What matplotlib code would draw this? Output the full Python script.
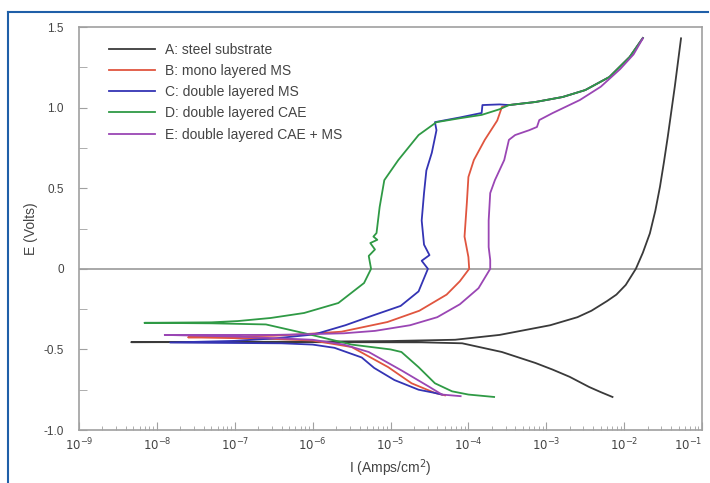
import matplotlib
matplotlib.use("Agg")
import matplotlib.pyplot as plt
import numpy as np
from matplotlib.ticker import LogLocator, NullFormatter, MultipleLocator, FixedLocator
from matplotlib.lines import Line2D

plt.rcParams['font.family'] = ['Liberation Sans', 'DejaVu Sans']

# ---- data: log10(I [A/cm2]) and E [V], each curve: cathodic tail -> Ecorr tip -> anodic top
a_logI = [-2.15, -2.30, -2.45, -2.70, -2.92, -3.14, -3.57, -4.08, -4.6, -6.0, -8.33,
          -6.0, -5.0, -4.17, -3.6, -2.95, -2.60, -2.42, -2.22, -2.10, -1.98, -1.85, -1.76,
          -1.67, -1.60, -1.54, -1.49, -1.44, -1.35, -1.27]
a_E = [-0.795, -0.765, -0.733, -0.67, -0.625, -0.584, -0.516, -0.462, -0.456, -0.455, -0.455,
       -0.452, -0.448, -0.44, -0.41, -0.35, -0.30, -0.26, -0.20, -0.16, -0.10, 0.0, 0.1,
       0.22, 0.36, 0.51, 0.66, 0.82, 1.13, 1.43]

b_logI = [-4.30, -4.43, -4.73, -5.03, -5.5, -6.0, -6.5, -7.0, -7.6,
          -7.0, -6.5, -6.1, -5.63, -5.04, -4.63, -4.28, -4.11, -3.99, -4.0,
          -4.05, -4.02, -4.0, -3.93, -3.79, -3.63, -3.57, -3.48, -3.14, -2.79,
          -2.50, -2.19, -1.93, -1.76]
b_E = [-0.785, -0.77, -0.71, -0.61, -0.485, -0.445, -0.435, -0.43, -0.425,
       -0.42, -0.415, -0.405, -0.39, -0.33, -0.26, -0.16, -0.077, 0.0, 0.073,
       0.20, 0.41, 0.57, 0.675, 0.80, 0.92, 1.004, 1.016, 1.035, 1.066,
       1.109, 1.19, 1.314, 1.432]

c_logI = [-4.34, -4.43, -4.64, -4.95, -5.21, -5.37, -5.72, -6.0, -6.4, -7.0, -7.83,
          -7.0, -6.5, -6.04, -5.93, -5.58, -5.23, -4.87, -4.64, -4.52, -4.60,
          -4.50, -4.57, -4.60, -4.57, -4.54, -4.47, -4.41, -4.43, -4.1, -3.83,
          -3.82, -3.6, -3.48, -3.14, -2.79, -2.50, -2.19, -1.93, -1.76]
c_E = [-0.78, -0.77, -0.75, -0.69, -0.615, -0.55, -0.49, -0.47, -0.462, -0.46, -0.457,
       -0.447, -0.432, -0.41, -0.40, -0.35, -0.29, -0.23, -0.14, 0.0, 0.05,
       0.085, 0.15, 0.30, 0.47, 0.61, 0.72, 0.86, 0.91, 0.94, 0.967,
       1.016, 1.02, 1.016, 1.035, 1.066, 1.109, 1.19, 1.314, 1.432]

d_logI = [-3.67, -4.0, -4.21, -4.43, -4.64, -4.86, -5.0, -5.5, -6.1, -6.6, -7.3, -8.16,
          -7.3, -6.96, -6.54, -6.11, -5.67, -5.34, -5.25, -5.28, -5.20, -5.26, -5.17,
          -5.22, -5.18, -5.14, -5.08, -4.90, -4.64, -4.41, -4.1, -3.83, -3.6,
          -3.48, -3.14, -2.79, -2.50, -2.19, -1.93, -1.76]
d_E = [-0.795, -0.78, -0.76, -0.71, -0.61, -0.516, -0.50, -0.47, -0.40, -0.345, -0.338, -0.335,
       -0.332, -0.324, -0.305, -0.274, -0.212, -0.088, 0.0, 0.08, 0.12, 0.16, 0.18,
       0.20, 0.222, 0.383, 0.55, 0.675, 0.83, 0.91, 0.935, 0.955, 0.99,
       1.016, 1.035, 1.066, 1.109, 1.19, 1.314, 1.432]

e_logI = [-4.1, -4.34, -4.51, -4.86, -5.28, -5.6, -6.0, -6.5, -7.0, -7.9,
          -7.0, -6.5, -6.0, -5.6, -5.2, -4.75, -4.40, -4.11, -3.87, -3.72, -3.72,
          -3.74, -3.74, -3.72, -3.66, -3.54, -3.48, -3.40, -3.22, -3.12, -3.09,
          -2.92, -2.57, -2.3, -2.05, -1.88, -1.76]
e_E = [-0.79, -0.78, -0.73, -0.63, -0.516, -0.47, -0.44, -0.43, -0.42, -0.41,
       -0.41, -0.41, -0.405, -0.40, -0.385, -0.35, -0.30, -0.22, -0.12, 0.0, 0.055,
       0.135, 0.30, 0.47, 0.55, 0.675, 0.80, 0.83, 0.86, 0.88, 0.923,
       0.966, 1.047, 1.13, 1.24, 1.33, 1.43]

labels = ["A: steel substrate", "B: mono layered MS", "C: double layered MS",
          "D: double layered CAE", "E: double layered CAE + MS"]
colors = ["#3a3a3a", "#e0553f", "#3434b4", "#2f9a45", "#9a46b4"]

x_exponents = list(range(-9, 0))
y_ticks = [-1.0, -0.5, 0, 0.5, 1.0, 1.5]
y_ticklabels = ["-1.0", "-0.5", "0", "0.5", "1.0", "1.5"]

fig = plt.figure(figsize=(7.10, 4.83), dpi=100)
ax = fig.add_axes([0.1113, 0.1097, 0.8775, 0.8343])

series = [(a_logI, a_E), (b_logI, b_E), (c_logI, c_E), (d_logI, d_E), (e_logI, e_E)]
ax.axhline(0, color="#9a9a9a", lw=1.2, zorder=1)
for (lx, ey), col, lab in zip(series, colors, labels):
    ax.plot(10.0 ** np.array(lx), ey, color=col, lw=1.3, label=lab, zorder=2)

ax.set_xscale("log")
ax.set_xlim(1e-9, 1e-1)
ax.set_ylim(-1.0, 1.5)
ax.xaxis.set_major_locator(FixedLocator([10.0 ** k for k in x_exponents]))
ax.xaxis.set_minor_locator(LogLocator(base=10, subs=np.arange(2, 10), numticks=20))
ax.xaxis.set_minor_formatter(NullFormatter())
ax.set_xticklabels([r"$10^{%d}$" % k for k in x_exponents])
ax.yaxis.set_major_locator(FixedLocator(y_ticks))
ax.set_yticklabels(y_ticklabels)
ax.yaxis.set_minor_locator(MultipleLocator(0.25))

for s in ax.spines.values():
    s.set_color("#a0a0a0")
    s.set_linewidth(1.2)
ax.tick_params(which="both", direction="in", colors="#a0a0a0", labelcolor="#444444", labelsize=8.5)
ax.tick_params(which="major", length=6)
ax.tick_params(axis="y", which="minor", length=6)
ax.tick_params(axis="x", which="minor", length=3)
ax.tick_params(axis="x", pad=5)
ax.tick_params(axis="y", pad=11)
# keep the last x label inside the figure
ax.get_xticklabels()[-1].set_horizontalalignment("right")
ax.get_xticklabels()[-1].set_x(1.0)

ax.set_xlabel("I (Amps/cm$^2$)", fontsize=10, color="#444444", labelpad=3)
ax.set_ylabel("E (Volts)", fontsize=10, color="#444444", labelpad=4)

leg = ax.legend(loc="upper left", bbox_to_anchor=(0.04, 0.975), frameon=False,
                fontsize=10, handlelength=3.3, handletextpad=0.7, labelspacing=0.52,
                borderaxespad=0)
for t in leg.get_texts():
    t.set_color("#444444")

# blue frame lines (top and left)
fig.add_artist(Line2D([8 / 710, 708 / 710], [1 - 12 / 483, 1 - 12 / 483],
                      transform=fig.transFigure, color="#1f5fa8", lw=1.5))
fig.add_artist(Line2D([8 / 710, 8 / 710], [0, 1 - 12 / 483],
                      transform=fig.transFigure, color="#1f5fa8", lw=1.5))

fig.savefig("out.png", dpi=100)
